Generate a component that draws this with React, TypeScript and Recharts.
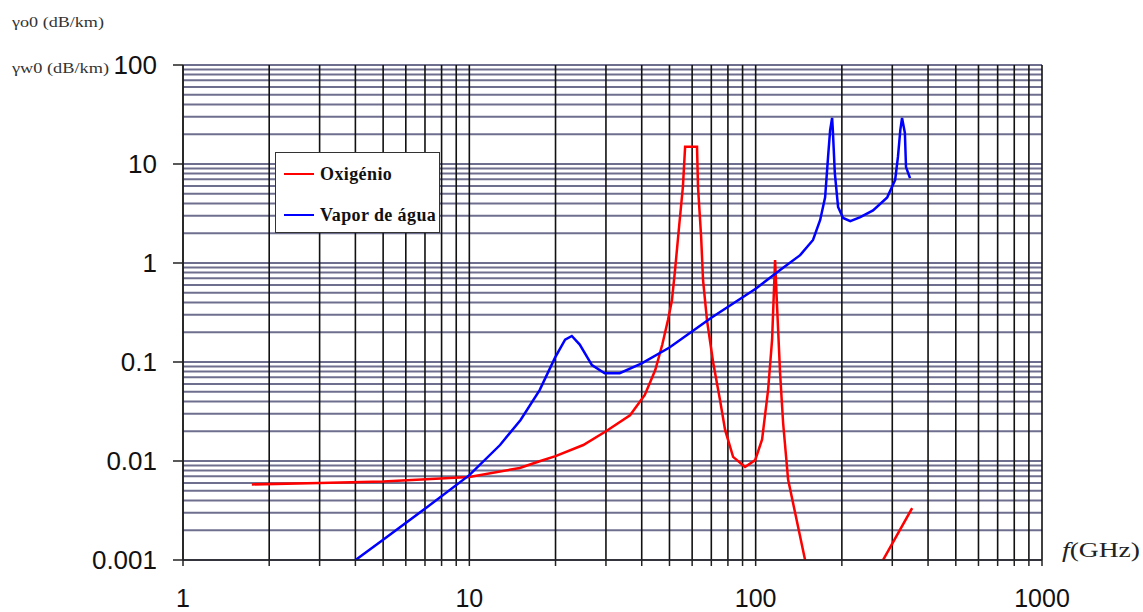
import { LineChart, Line, XAxis, YAxis, CartesianGrid, Legend, Label } from "recharts";

// frequency (GHz) / specific attenuation (dB/km)
const oxygenFreq = [1.74, 3, 5, 10, 15, 17.7, 20, 25, 30, 36.4, 41, 44.6, 47.2, 49.4, 51, 52.3, 54, 55.7, 56.7, 62.4, 62.9, 64.5, 65.5, 67.6, 71, 75.1, 78.2, 83.4, 91.8, 99.6, 105.3, 110.5, 114.1, 116.9, 118.8, 121.7, 124.7, 129.8, 148.8, 170, 220, 260, 278.6, 352];
const oxygenAtt = [0.0058, 0.006, 0.0062, 0.0069, 0.0085, 0.01, 0.0112, 0.0145, 0.02, 0.029, 0.0465, 0.083, 0.15, 0.265, 0.42, 0.85, 2.31, 5.86, 14.9, 14.9, 5.86, 1.83, 0.67, 0.265, 0.1, 0.041, 0.0206, 0.011, 0.0087, 0.0102, 0.0165, 0.052, 0.167, 1.07, 0.36, 0.077, 0.0242, 0.0065, 0.001, 0.0004, 0.0002, 0.0005, 0.001, 0.00335];

const vaporFreq = [3.75, 5, 7, 10, 12.8, 15.1, 17.6, 19.9, 21.6, 22.8, 24.3, 26.8, 29.7, 33.5, 40, 50, 70, 100, 121.7, 143, 158.6, 168, 174.8, 179, 182, 184.9, 186, 189, 194, 202, 214, 232, 257, 288, 307, 314, 320, 324.5, 332, 335, 346];
const vaporAtt = [0.00087, 0.0016, 0.0033, 0.0072, 0.0145, 0.026, 0.052, 0.11, 0.168, 0.183, 0.15, 0.093, 0.077, 0.077, 0.097, 0.14, 0.28, 0.55, 0.85, 1.2, 1.71, 2.72, 4.6, 11.8, 22, 29.2, 22, 8.1, 3.68, 2.85, 2.65, 2.9, 3.4, 4.6, 6.9, 11.8, 22, 29.2, 20.6, 9.3, 7.2];

const freqDecades = [1, 10, 100];
const attDecades = [0.001, 0.01, 0.1, 1, 10];
const freqLabels = ["1", "10", "100", "1000"];
const attLabels = ["0.001", "0.01", "0.1", "1", "10", "100"];

const minors = [1, 2, 3, 4, 5, 6, 7, 8, 9];
const freqTicks = [...freqDecades.flatMap((d) => minors.map((m) => m * d)), 1000];
const attTicks = [...attDecades.flatMap((d) => minors.map((m) => m * d)), 100];

const oxygenData = oxygenFreq.map((f, i) => ({ f, v: oxygenAtt[i] }));
const vaporData = vaporFreq.map((f, i) => ({ f, v: vaporAtt[i] }));

const isDecade = (v: number) => Math.abs(Math.log10(v) - Math.round(Math.log10(v))) < 1e-6;
const decadeLabel = (v: number, labels: string[], first: number) =>
  labels[Math.round(Math.log10(v)) - first];

const sans = "'Liberation Sans', Arial, sans-serif";
const serif = "'Liberation Serif', 'Times New Roman', serif";

const XTick = ({ x, y, payload }: any) => {
  const v = payload.value;
  return (
    <g>
      <line x1={x} x2={x} y1={y} y2={y + 6} stroke="#222" strokeWidth={1.5} />
      {isDecade(v) && (
        <text x={x} y={y + 38} dy="0.35em" textAnchor="middle" fontFamily={sans} fontSize={25} fill="#111">
          {decadeLabel(v, freqLabels, 0)}
        </text>
      )}
    </g>
  );
};

const YTick = ({ x, y, payload }: any) => {
  const v = payload.value;
  if (!isDecade(v)) return <g />;
  return (
    <g>
      <line x1={x - 10} x2={x} y1={y} y2={y} stroke="#222" strokeWidth={1.5} />
      <text x={x - 26} y={y} dy="0.35em" textAnchor="end" fontFamily={sans} fontSize={26} fill="#111">
        {decadeLabel(v, attLabels, -3)}
      </text>
    </g>
  );
};

const YTitle = ({ viewBox }: any) => {
  const left = viewBox.x - 71;
  return (
    <g fontFamily={serif} fontSize={14} fill="#333">
      <text x={left} y={22} dy="0.35em" textLength={92} lengthAdjust="spacingAndGlyphs">
        γo0 (dB/km)
      </text>
      <text x={left} y={viewBox.y + 3} dy="0.35em" textLength={97} lengthAdjust="spacingAndGlyphs">
        γw0 (dB/km)
      </text>
    </g>
  );
};

const XTitle = ({ viewBox }: any) => (
  <text
    x={viewBox.x + viewBox.width + 20}
    y={viewBox.y - 10}
    dy="0.35em"
    fontFamily={serif}
    fontSize={21}
    fill="#222"
    textLength={78}
    lengthAdjust="spacingAndGlyphs"
  >
    <tspan fontStyle="italic">f</tspan>(GHz)
  </text>
);

const LegendBox = ({ payload }: any) => (
  <div
    style={{
      width: 165,
      height: 81,
      boxSizing: "border-box",
      border: "1.5px solid #333",
      background: "#fff",
      paddingTop: 7,
      paddingLeft: 8,
      fontFamily: serif,
      fontWeight: "bold",
      fontSize: 18,
      letterSpacing: 0.4,
      color: "#111",
    }}
  >
    {(payload || []).map((entry: any) => (
      <div key={entry.value} style={{ display: "flex", alignItems: "center", height: 28, marginBottom: 13 }}>
        <span style={{ width: 30, height: 2.5, background: entry.color, marginRight: 6 }} />
        <span>{entry.value}</span>
      </div>
    ))}
  </div>
);

export default function App() {
  return (
    <div style={{ position: "absolute", left: 0, top: 0, background: "#fff" }}>
      <LineChart width={1143} height={612} margin={{ top: 65, right: 101, bottom: 0, left: 83 }}>
        <CartesianGrid vertical={false} stroke="#55557a" strokeWidth={2} strokeOpacity={0.85} />
        <CartesianGrid horizontal={false} stroke="#111" strokeWidth={1.6} />
        <XAxis
          dataKey="f"
          type="number"
          scale="log"
          domain={[1, 1000]}
          ticks={freqTicks}
          interval={0}
          allowDataOverflow
          tickSize={0}
          tickMargin={0}
          tickLine={false}
          height={52}
          axisLine={{ stroke: "#222", strokeWidth: 1.5 }}
          tick={<XTick />}
        >
          <Label content={<XTitle />} />
        </XAxis>
        <YAxis
          type="number"
          scale="log"
          domain={[0.001, 100]}
          ticks={attTicks}
          interval={0}
          allowDataOverflow
          tickSize={0}
          tickMargin={0}
          tickLine={false}
          width={100}
          axisLine={{ stroke: "#222", strokeWidth: 1.5 }}
          tick={<YTick />}
        >
          <Label content={<YTitle />} />
        </YAxis>
        <Legend
          layout="horizontal"
          verticalAlign="middle"
          align="center"
          wrapperStyle={{ left: 275, top: 152, width: 165, height: 81 }}
          content={<LegendBox />}
        />
        <Line
          data={oxygenData}
          dataKey="v"
          name="Oxigénio"
          type="linear"
          stroke="#ff0000"
          strokeWidth={2.5}
          dot={false}
          isAnimationActive={false}
        />
        <Line
          data={vaporData}
          dataKey="v"
          name="Vapor de água"
          type="linear"
          stroke="#0000ff"
          strokeWidth={2.5}
          dot={false}
          isAnimationActive={false}
        />
      </LineChart>
    </div>
  );
}
